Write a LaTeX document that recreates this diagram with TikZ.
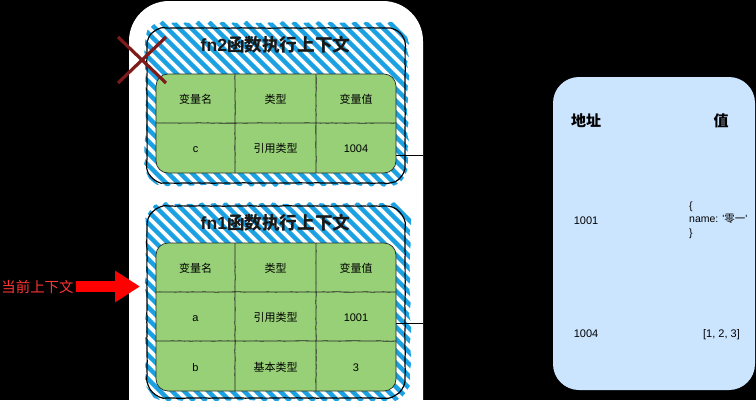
\documentclass[tikz,border=0pt]{standalone}
\usepackage{fontspec}
\setmainfont{Liberation Sans}
\newfontfamily\plainfont{Liberation Sans}
\newfontfamily\cjk{Noto Sans CJK SC}
\usetikzlibrary{arrows.meta,decorations.pathmorphing}
\definecolor{hatchblue}{HTML}{1BA1E2}
\definecolor{tablegreen}{HTML}{97D077}
\definecolor{memblue}{HTML}{CCE5FF}
\definecolor{crossred}{HTML}{7F1A1A}
\definecolor{curred}{HTML}{FF3333}
\tikzset{
  rough/.style={decorate,decoration={random steps,segment length=4pt,amplitude=.2pt}},
  framebox/.style={draw=black,line width=1.2pt,line join=round,rough},
  tablebox/.style={fill=tablegreen,rounded corners=12pt,minimum width=240pt,inner sep=0pt,outer sep=0pt},
  tableedge/.style={draw=black!85,line width=.7pt,line join=round},
  gridline/.style={draw=black!85,line width=.8pt,line join=round,rough},
  cell/.style={font=\fontsize{11}{13}\selectfont,text=black,inner sep=0pt,text height=9.5pt,text depth=1.5pt},
  memtext/.style={font=\fontsize{10.5}{13.5}\selectfont,text=black,inner sep=0pt,align=left},
  title/.style={font=\fontsize{17.6}{20}\selectfont\bfseries,text=black!90,inner sep=0pt},
  memhead/.style={font=\fontsize{15}{18}\selectfont\bfseries,text=black,inner sep=0pt},
  link/.style={draw=black,line width=.7pt},
  hatchline/.style={draw=hatchblue,line width=4.3pt},
  crossline/.style={draw=crossred,line width=3.2pt}
}
% rounded rectangle as an explicit path, so that decorations keep its corners
\newcommand{\rrect}[5]{({#1+#5},#2) -- ({#3-#5},#2) .. controls ({#3-.45*#5},#2) and (#3,{#2+.45*#5}) .. (#3,{#2+#5})
  -- (#3,{#4-#5}) .. controls (#3,{#4-.45*#5}) and ({#3-.45*#5},#4) .. ({#3-#5},#4)
  -- ({#1+#5},#4) .. controls ({#1+.45*#5},#4) and (#1,{#4-.45*#5}) .. (#1,{#4-#5})
  -- (#1,{#2+#5}) .. controls (#1,{#2+.45*#5}) and ({#1+.45*#5},#2) .. ({#1+#5},#2) -- cycle}
\newcommand{\hatchfill}[4]{%
  \begin{scope}
    \clip[decorate,decoration={random steps,segment length=7pt,amplitude=1.3pt}] \rrect{#1}{#2}{#3}{#4}{22};
    \pgfmathsetmacro{\hstart}{#1-(#4-#2)}
    \pgfmathsetmacro{\hnext}{\hstart+12}
    \foreach \c in {\hstart,\hnext,...,#3}{
      \path[hatchline] (\c,#2) -- ++(#4-#2,#4-#2);
    }
  \end{scope}}
\begin{document}
\begin{tikzpicture}[x=1pt,y=-1pt]
\pgfmathsetseed{42}
\useasboundingbox (0,0) rectangle (756,400);
\clip (0,0) rectangle (756,400);
\fill[black] (0,0) rectangle (756,400);
% context stack
\fill[white,rounded corners=40pt] (129,1) rectangle (423,440);
% fn2
\hatchfill{145}{22}{408}{186}
\draw[framebox] \rrect{147}{28}{405}{183}{18};
\node[title] (fn2title) at (275.5,45) {fn2{\cjk 函数执行上下文}};
\node[tablebox,minimum height=99pt] (fn2table) at (276,123.5) {};
\draw[tableedge] \rrect{156}{74}{396}{173}{12};
\draw[gridline] (156,123) -- (396,123) (235,74) -- (235,173) (316,74) -- (316,173);
\node[cell] (a1) at (195.5,99) {\cjk 变量名};
\node[cell] (a2) at (275.5,99) {\cjk 类型};
\node[cell] (a3) at (356,99) {\cjk 变量值};
\node[cell] (a4) at (195.5,148) {c};
\node[cell] (a5) at (275.5,148) {\cjk 引用类型};
\node[cell] (a6) at (356,148) {1004};
% fn1
\hatchfill{146}{203}{410}{401}
\draw[framebox] \rrect{147}{206}{405}{398}{20};
\node[title] (fn1title) at (275.5,223) {fn1{\cjk 函数执行上下文}};
\node[tablebox,minimum height=148pt] (fn1table) at (276,317) {};
\draw[tableedge] \rrect{156}{243}{396}{391}{12};
\draw[gridline] (156,292) -- (396,292) (156,341) -- (396,341) (235,243) -- (235,391) (316,243) -- (316,391);
\node[cell] (b1) at (195.5,268) {\cjk 变量名};
\node[cell] (b2) at (275.5,268) {\cjk 类型};
\node[cell] (b3) at (356,268) {\cjk 变量值};
\node[cell] (b4) at (195.5,317) {a};
\node[cell] (b5) at (275.5,317) {\cjk 引用类型};
\node[cell] (b6) at (356,317) {1001};
\node[cell] (b7) at (195.5,367) {b};
\node[cell] (b8) at (275.5,367) {\cjk 基本类型};
\node[cell] (b9) at (356,367) {3};
% connectors leaving the tables
\coordinate (c2end) at (423,155);
\coordinate (c1end) at (423,323);
\draw[link] (fn2table.east |- c2end) -- (c2end);
\draw[link] (fn1table.east |- c1end) -- (c1end);
% cross
\coordinate (xa) at (118,37); \coordinate (xb) at (166,83);
\coordinate (xc) at (166,37); \coordinate (xd) at (118,83);
\draw[crossline] (xa) -- (xb);
\draw[crossline] (xc) -- (xd);
% current context label
\node[font=\fontsize{14.4}{16}\selectfont,text=curred,inner sep=2pt,outer sep=0pt] (cur) at (37.5,286.5) {\cjk 当前上下文};
\coordinate (curtip) at (140,286.5);
\draw[-{Triangle[length=25pt,width=30pt]},draw=red,fill=red,line width=11pt] (cur.east |- curtip) -- (curtip);
% memory
\node[fill=memblue,rounded corners=26pt,minimum width=202pt,minimum height=313pt,inner sep=0pt,outer sep=0pt] (mem) at (654,233.5) {};
\node[memhead] (h1) at (586,121) {\cjk 地址};
\node[memhead] (h2) at (721,121) {\cjk 值};
\node[cell] (m1) at (586,220) {1001};
\node[memtext,anchor=west] (m2) at (689,220) {\{\\name: {\plainfont '}{\cjk 零一}{\plainfont '}\\\}};
\node[cell] (m3) at (586,333.5) {1004};
\node[cell] (m4) at (721.5,333.5) {[1, 2, 3]};
\end{tikzpicture}
\end{document}
